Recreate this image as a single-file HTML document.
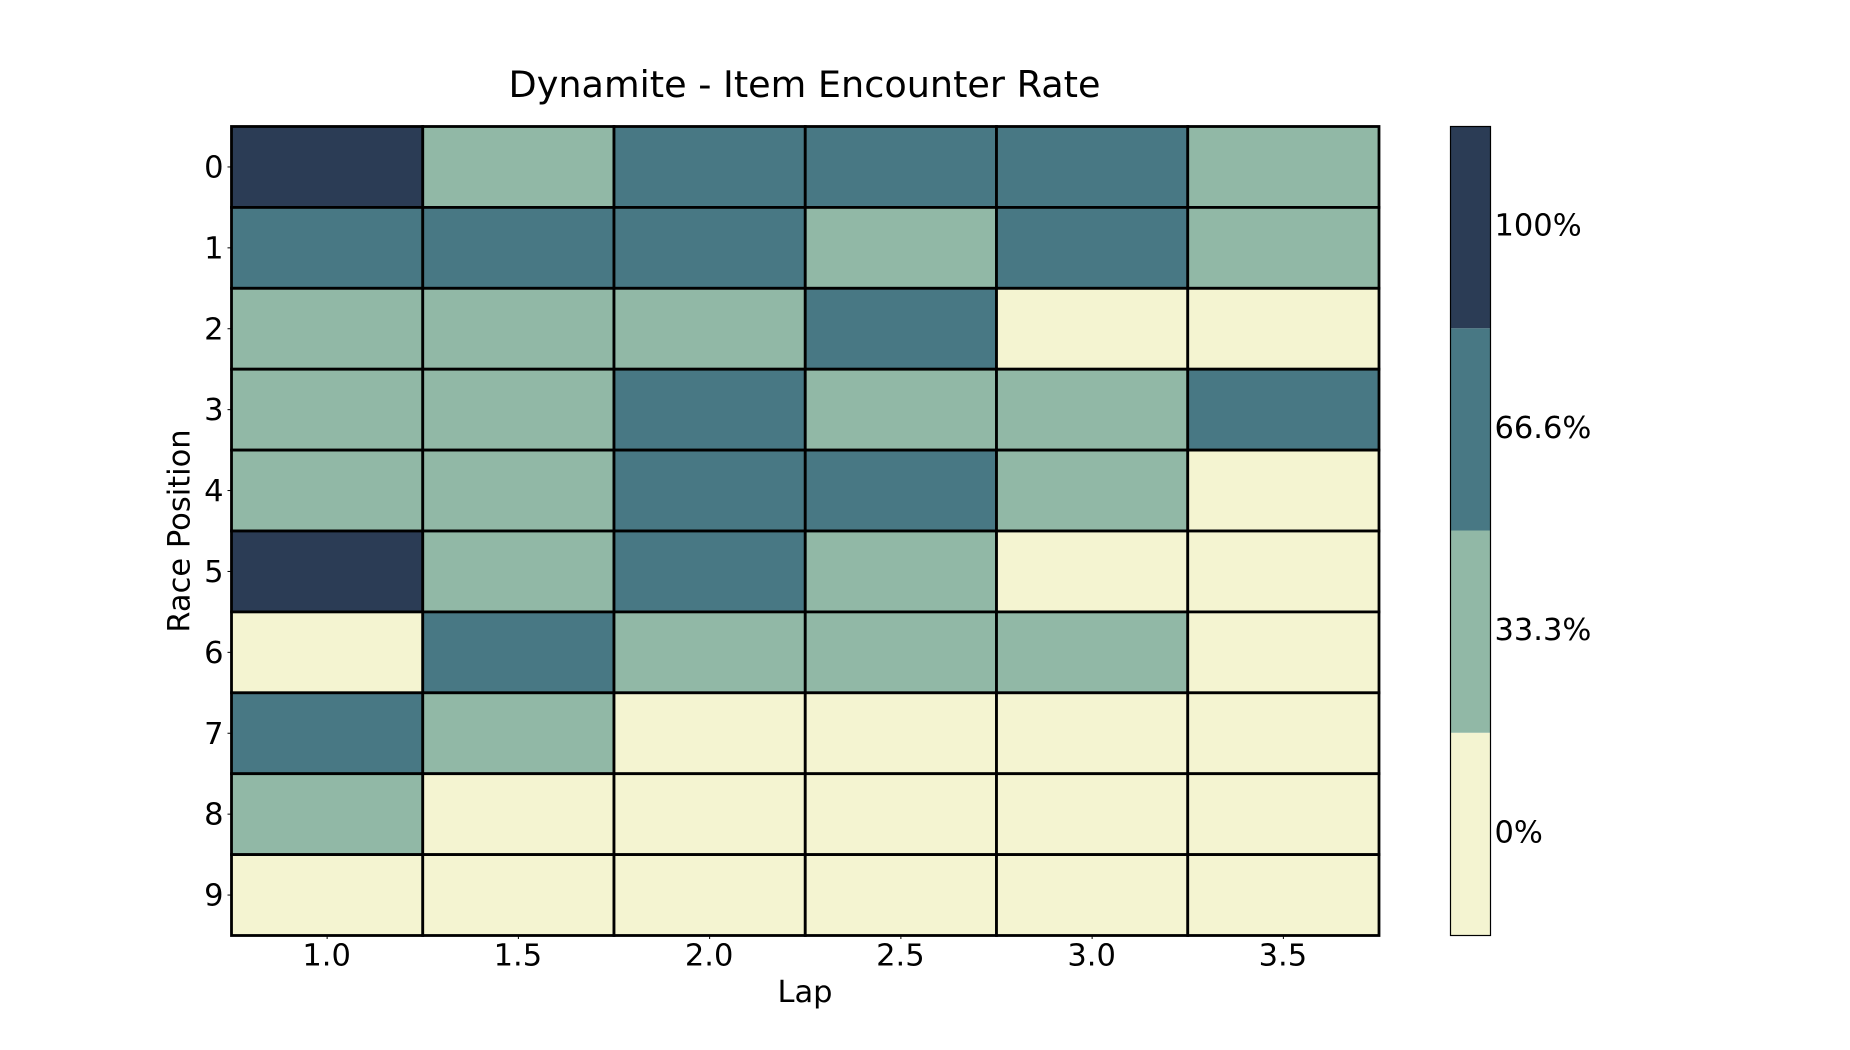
<!DOCTYPE html>
<html>
<head>
<meta charset="utf-8">
<title>Dynamite - Item Encounter Rate</title>
<style>
html,body{margin:0;padding:0;background:#fff;}
svg{display:block;}
text{font-family:"DejaVu Sans","Liberation Sans",sans-serif;fill:#000;}
</style>
</head>
<body>
<svg id="chart" xmlns="http://www.w3.org/2000/svg" width="1850" height="1050" viewBox="0 0 1850 1050">
<text x="804.5" y="97" font-size="36.6" text-anchor="middle">Dynamite - Item Encounter Rate</text>
<text x="805" y="1002" font-size="30.5" text-anchor="middle">Lap</text>
<text transform="translate(189.5 531) rotate(-90)" font-size="30.5" text-anchor="middle">Race Position</text>
<g id="cells"></g>
<g id="xticks"></g>
<g id="yticks"></g>
<g id="colorbar"></g>
</svg>
<script>
const laps = ["1.0", "1.5", "2.0", "2.5", "3.0", "3.5"];
const positions = ["0", "1", "2", "3", "4", "5", "6", "7", "8", "9"];
const levels = [0, 33.3, 66.6, 100];
const levelLabels = ["0%", "33.3%", "66.6%", "100%"];
const levelColors = ["#f4f4d1", "#91b8a6", "#487884", "#2b3c55"];
const rate0 = [100, 33.3, 66.6, 66.6, 66.6, 33.3];
const rate1 = [66.6, 66.6, 66.6, 33.3, 66.6, 33.3];
const rate2 = [33.3, 33.3, 33.3, 66.6, 0, 0];
const rate3 = [33.3, 33.3, 66.6, 33.3, 33.3, 66.6];
const rate4 = [33.3, 33.3, 66.6, 66.6, 33.3, 0];
const rate5 = [100, 33.3, 66.6, 33.3, 0, 0];
const rate6 = [0, 66.6, 33.3, 33.3, 33.3, 0];
const rate7 = [66.6, 33.3, 0, 0, 0, 0];
const rate8 = [33.3, 0, 0, 0, 0, 0];
const rate9 = [0, 0, 0, 0, 0, 0];
const rates = [rate0, rate1, rate2, rate3, rate4, rate5, rate6, rate7, rate8, rate9];

const NS = "http://www.w3.org/2000/svg";
const plot = {left: 231.5, right: 1379, top: 126.5, bottom: 935.5};
const bar = {left: 1450.5, right: 1490.5, top: 126, bottom: 935};

function xEdge(i) { return plot.left + (plot.right - plot.left) * i / laps.length; }
function yEdge(i) { return plot.top + (plot.bottom - plot.top) * i / positions.length; }
function barY(i) { return bar.bottom - (bar.bottom - bar.top) * i / levels.length; }
function colorFor(v) {
  let best = 0;
  levels.forEach(function (l, i) {
    if (Math.abs(l - v) < Math.abs(levels[best] - v)) best = i;
  });
  return levelColors[best];
}
function make(tag, parent, attrs) {
  const el = document.createElementNS(NS, tag);
  Object.keys(attrs).forEach(function (k) { el.setAttribute(k, attrs[k]); });
  parent.appendChild(el);
  return el;
}

const cells = document.getElementById("cells");
rates.forEach(function (row, r) {
  row.forEach(function (v, c) {
    const cell = make("rect", cells, {
      x: xEdge(c), y: yEdge(r),
      width: xEdge(c + 1) - xEdge(c), height: yEdge(r + 1) - yEdge(r),
      fill: colorFor(v), stroke: "#000", "stroke-width": 2.8
    });
    
    
  });
});

const xticks = document.getElementById("xticks");
laps.forEach(function (lap, i) {
  const x = (xEdge(i) + xEdge(i + 1)) / 2;
  const tick = make("line", xticks, {x1: x, x2: x, y1: plot.bottom, y2: plot.bottom + 3.5, stroke: "#000", "stroke-width": 1});
  
  
  const label = make("text", xticks, {x: x - 0.5, y: plot.bottom + 30, "font-size": 30.5, "text-anchor": "middle"});
  label.textContent = lap;
  
  
});

const yticks = document.getElementById("yticks");
positions.forEach(function (pos, i) {
  const y = (yEdge(i) + yEdge(i + 1)) / 2;
  const tick = make("line", yticks, {x1: plot.left - 4, x2: plot.left, y1: y, y2: y, stroke: "#000", "stroke-width": 1});
  
  
  const label = make("text", yticks, {x: plot.left - 8, y: y + 10.5, "font-size": 30.5, "text-anchor": "end"});
  label.textContent = pos;
  
  
});

const colorbar = document.getElementById("colorbar");
levels.forEach(function (level, i) {
  const seg = make("rect", colorbar, {
    x: bar.left, y: barY(i + 1),
    width: bar.right - bar.left, height: barY(i) - barY(i + 1),
    fill: levelColors[i]
  });
  
  
  const label = make("text", colorbar, {x: bar.right + 4, y: (barY(i) + barY(i + 1)) / 2 + 8.5, "font-size": 30.5});
  label.textContent = levelLabels[i];
  
  
});
const outline = make("rect", colorbar, {
  x: bar.left, y: bar.top + 0.5, width: bar.right - bar.left, height: bar.bottom - bar.top,
  fill: "none", stroke: "#000", "stroke-width": 1.2
});


</script>
</body>
</html>
